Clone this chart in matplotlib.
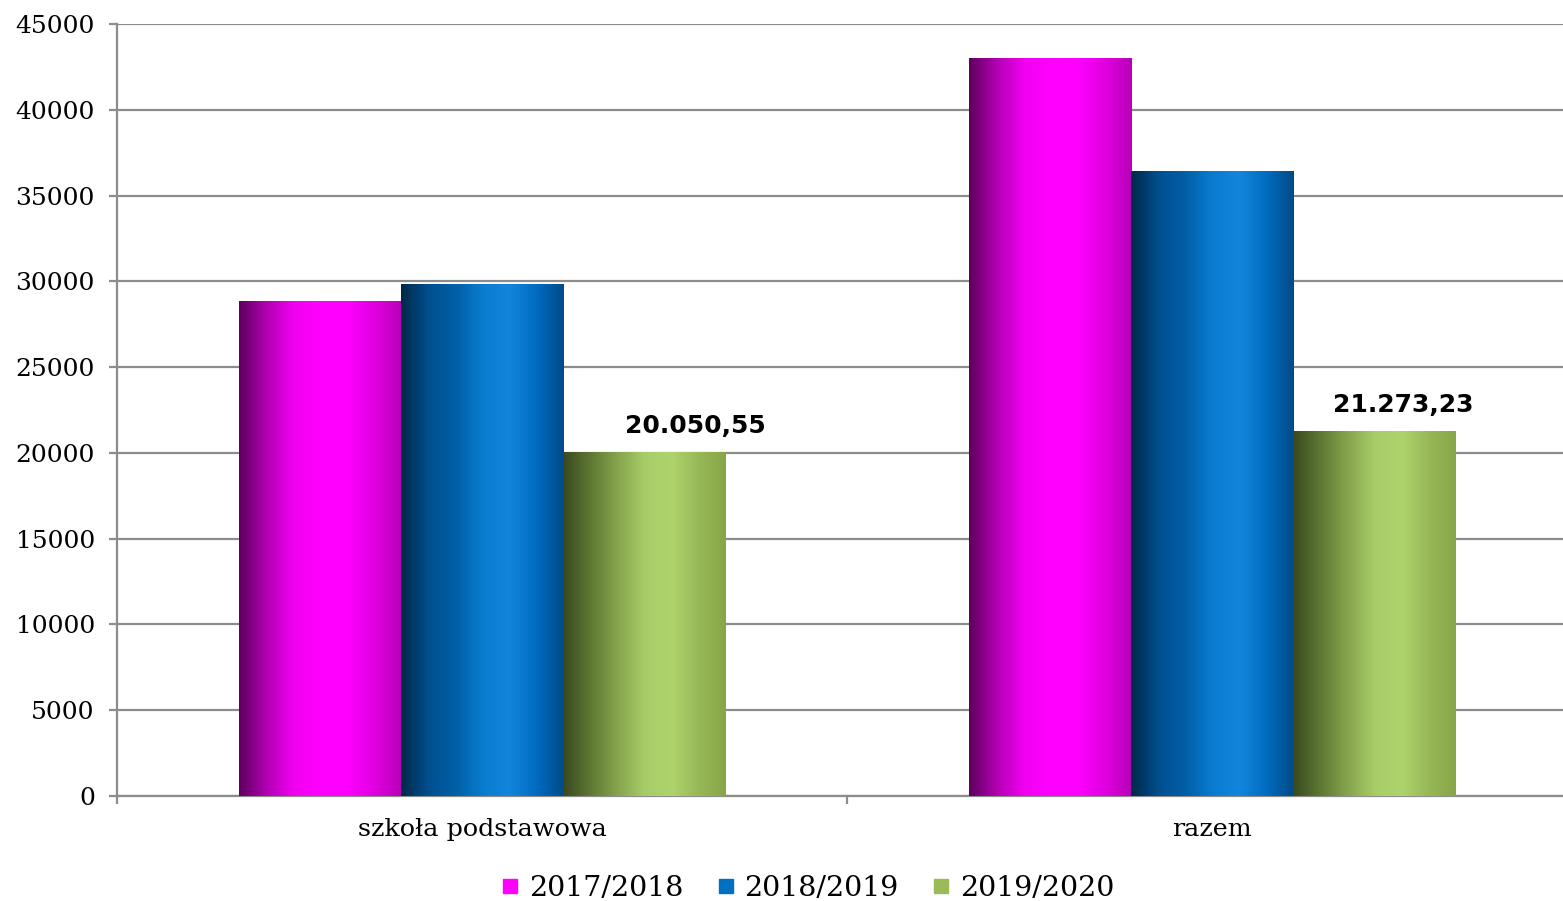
import numpy as np
import matplotlib
matplotlib.use('Agg')
import matplotlib.pyplot as plt
from matplotlib.colors import LinearSegmentedColormap
from matplotlib.lines import Line2D

categories = ['szkoła podstawowa', 'razem']
series = ['2017/2018', '2018/2019', '2019/2020']
values_2017 = [28800, 43000]
values_2018 = [29800, 36400]
values_2019 = [20050.55, 21273.23]
labels_2019 = ['20.050,55', '21.273,23']
yticks = list(range(0, 45001, 5000))

base_colors = ['#ff00ff', '#0070c0', '#9bbb59']
gradients = [
    ['#5e005e', '#b000b0', '#f000f0', '#ff00ff', '#ff00ff', '#e000e0', '#b800b8'],
    ['#002848', '#004f8e', '#005fa6', '#0a7cd0', '#1286dc', '#006cc0', '#004a88'],
    ['#3a4820', '#5e7834', '#86a44c', '#a8cc68', '#b0d46c', '#98b858', '#87a648'],
]

fig = plt.figure(figsize=(15.63, 9.01), dpi=100)
ax = fig.add_axes([117 / 1563, 105 / 901, (1563 - 117) / 1563, 772 / 901])

x = np.arange(len(categories))
width = 0.222
all_vals = [values_2017, values_2018, values_2019]
grad = np.linspace(0, 1, 256).reshape(1, -1)
for i, vals in enumerate(all_vals):
    cmap = LinearSegmentedColormap.from_list('g%d' % i, gradients[i])
    pos = x + (i - 1) * width
    bars = ax.bar(pos, vals, width, color='none', edgecolor='none', zorder=3)
    for b in bars:
        x0, y0 = b.get_x(), b.get_y()
        ax.imshow(grad, cmap=cmap, aspect='auto', zorder=3,
                  extent=(x0, x0 + b.get_width(), y0, y0 + b.get_height()))

# labels were nudged right in the original
label_shift = [0.07, 0.04]
for xi, v, lab, dx in zip(x + width, values_2019, labels_2019, label_shift):
    ax.text(xi + dx, v + 800, lab, ha='center', va='bottom', fontsize=18,
            fontweight='bold', family='DejaVu Sans', color='black')

ax.set_xlim(-0.5, 1.481)
ax.set_ylim(0, 45000)
ax.set_yticks(yticks)
ax.set_yticklabels([str(t) for t in yticks], family='DejaVu Serif', fontsize=18)
ax.yaxis.grid(True, color='#8c8c8c', linewidth=1.6, zorder=0)
ax.set_axisbelow(True)

ax.set_xticks([-0.5, 0.5])
ax.set_xticklabels([])
for xi, c in zip(x, categories):
    ax.text(xi, -1300, c, ha='center', va='top', fontsize=18.3,
            family='DejaVu Serif', transform=ax.transData)

for s in ['top', 'right']:
    ax.spines[s].set_visible(False)
for s in ['left', 'bottom']:
    ax.spines[s].set_color('#8c8c8c')
    ax.spines[s].set_linewidth(1.6)
ax.tick_params(axis='both', color='#8c8c8c', width=1.6, length=6)
ax.tick_params(axis='y', pad=10)

handles = [Line2D([], [], marker='s', linestyle='none', markersize=10,
                  markerfacecolor=c, markeredgecolor=c) for c in base_colors]
fig.legend(handles, series, loc='lower center', bbox_to_anchor=(0.516, -0.03),
           ncol=3, frameon=False, handlelength=0.8, handletextpad=0.25,
           columnspacing=1.1, prop={'family': 'DejaVu Serif', 'size': 20.5})

fig.savefig('out.png', dpi=100)
